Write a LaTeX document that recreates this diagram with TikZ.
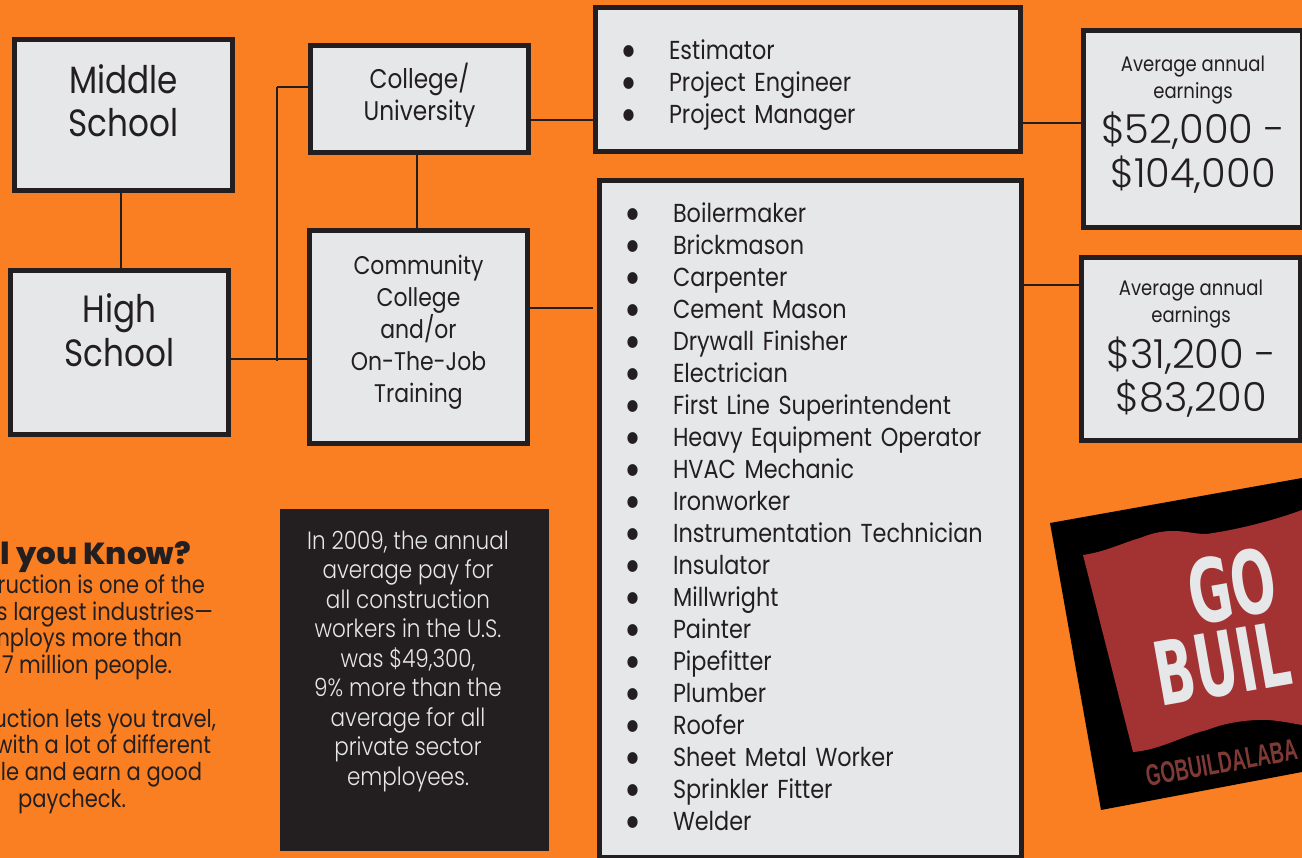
\documentclass[tikz,border=0pt]{standalone}
\usepackage{fontspec}
\setmainfont{Poppins}[FakeStretch=0.86]
\newfontfamily\lightfont{Poppins Light}[FakeStretch=0.86]
\newfontfamily\payfont{Poppins Light}
\newfontfamily\heavyfont{Poppins ExtraBold}[FakeStretch=1.02]
\newfontfamily\logofont{DejaVu Sans Bold}[FakeStretch=0.6]
\newfontfamily\webfont{Liberation Sans}[FakeStretch=0.63]
\usetikzlibrary{positioning}
\definecolor{bgorange}{HTML}{F97F22}
\definecolor{boxgray}{HTML}{E6E7E8}
\definecolor{inkdark}{HTML}{231F20}
\definecolor{flagred}{HTML}{A33232}
\definecolor{webbrown}{HTML}{7F3A35}
\newcommand{\jobline}[1]{\makebox[40pt][l]{\hspace*{-9pt}\smash{\raisebox{-8pt}{\fontsize{48}{48}\selectfont\textbullet}}}\mbox{#1}}
\newcommand{\bigpay}{\payfont\fontsize{40}{45}\selectfont}
\tikzset{
  every node/.style={outer sep=0pt,inner sep=0pt,text=inkdark},
  stagebox/.style={draw=inkdark,line width=5pt,fill=boxgray,align=center},
  joinline/.style={draw=inkdark,line width=2.5pt},
  sideline/.style={font=\fontsize{24.5}{27}\selectfont,anchor=base east}
}

\begin{document}
\begin{tikzpicture}[x=1pt,y=-1pt]
    \useasboundingbox (0,0) rectangle (1302,858);
    \clip (0,0) rectangle (1302,858);
    \fill [bgorange] (0,0) rectangle (1302,858);

    % school and training boxes
    \begin{scope}[every node/.append style={stagebox}]
      \node [minimum width=218pt,minimum height=151pt,text depth=29pt,font=\fontsize{38}{43}\selectfont] (middle) at (123.5,115) {Middle\\School};
      \node [minimum width=218pt,minimum height=164pt,text depth=44pt,font=\fontsize{38}{44}\selectfont] (high) at (119.5,352.5) {High\\School};
      \node [minimum width=218pt,minimum height=107pt,text depth=14pt,font=\fontsize{27}{32}\selectfont] (college) at (419.5,99) {College/\\University};
      \node [minimum width=218pt,minimum height=213pt,text depth=16pt,font=\fontsize{25.5}{32}\selectfont] (community) at (418.5,337) {Community\\College\\and/or\\On-The-Job\\Training};
    \end{scope}

    % job lists
    \begin{scope}[every node/.append style={stagebox,align=left,font=\fontsize{26}{32}\selectfont}]
      \node [minimum width=425pt,minimum height=144pt,text width=358pt] (jobsa) at (808,79.5) {%
        \rule{0pt}{31pt}\jobline{Estimator}\\\jobline{Project Engineer}\\\jobline{Project Manager}};
      \node [minimum width=422pt,minimum height=677pt,text width=355pt] (jobsb) at (810.5,519) {%
        \jobline{Boilermaker}\\\jobline{Brickmason}\\\jobline{Carpenter}\\\jobline{Cement Mason}\\
        \jobline{Drywall Finisher}\\\jobline{Electrician}\\\jobline{First Line Superintendent}\\
        \jobline{Heavy Equipment Operator}\\\jobline{HVAC Mechanic}\\\jobline{Ironworker}\\
        \jobline{Instrumentation Technician}\\\jobline{Insulator}\\\jobline{Millwright}\\
        \jobline{Painter}\\\jobline{Pipefitter}\\\jobline{Plumber}\\\jobline{Roofer}\\
        \jobline{Sheet Metal Worker}\\\jobline{Sprinkler Fitter}\\\jobline{Welder}\rule[-4pt]{0pt}{4pt}};
    \end{scope}

    % earnings
    \begin{scope}[every node/.append style={stagebox,font=\fontsize{21}{27}\selectfont}]
      \node [minimum width=219pt,minimum height=197pt,text depth=15pt] (paya) at (1193,129) {Average annual\\earnings\\[7pt]
        \bigpay \$52,000 -\\[5pt]\bigpay \$104,000};
      \node [minimum width=219pt,minimum height=183pt,text depth=6pt] (payb) at (1191,349) {Average annual\\earnings\\[7pt]
        \bigpay \$31,200 -\\[5pt]\bigpay \$83,200};
    \end{scope}

    % connectors
    \coordinate (trunktop) at (277,87);
    \coordinate (trunkbot) at (277,361);
    \coordinate (tiea) at (560,120);
    \coordinate (tieb) at (560,308);
    \coordinate (tiebend) at (593,308);
    \coordinate (tiec) at (1050,123);
    \coordinate (tied) at (1050,285);
    \coordinate (tiehigh) at (277,359);
    \coordinate (tiemid) at (121,230);
    \coordinate (tiecol) at (417,190);
    \draw [joinline] (tiemid |- middle.south) -- (tiemid |- high.north);
    \draw [joinline] (trunktop) -- (trunkbot);
    \draw [joinline] (trunktop) -- (trunktop -| college.west);
    \draw [joinline] (tiehigh -| high.east) -- (tiehigh -| community.west);
    \draw [joinline] (tiecol |- college.south) -- (tiecol |- community.north);
    \draw [joinline] (tiea -| college.east) -- (tiea -| jobsa.west);
    \draw [joinline] (tieb -| community.east) -- (tiebend);
    \draw [joinline] (tiec -| jobsa.east) -- (tiec -| paya.west);
    \draw [joinline] (tied -| jobsb.east) -- (tied -| payb.west);

    % did you know, cut by the page edge
    \node [anchor=base east,font=\heavyfont\fontsize{30.4}{31}\selectfont] (knowtitle) at (191,565) {l you Know?};
    \foreach \nm/\xe/\yb/\txt in {a/205/593/{ruction is one of the},
        b/213/620/{'s largest industries---},
        c/182/646/{mploys more than},
        d/172/673/{7 million people.},
        e/216/727/{uction lets you travel,},
        f/211/753/{with a lot of different},
        g/202/780/{le and earn a good},
        h/126/807/{paycheck.}}
      \node [sideline] (know\nm) at (\xe,\yb) {\txt};

    % pay note
    \node [fill=inkdark,minimum width=269pt,minimum height=342pt] (notebg) at (414.5,680) {};
    \node [text=boxgray,align=center,font=\lightfont\fontsize{25}{29.5}\selectfont] (note) at (408,661) {In 2009, the annual\\average pay for\\all construction\\workers in the U.S.\\was \$49,300,\\9\% more than the\\average for all\\private sector\\employees.};

    % go build sticker
    \fill [black] (1050,523) -- (1302,478) -- (1302,772) -- (1101,810) -- cycle;
    \fill [flagred] (1083,555) .. controls (1105,552) and (1125,542) .. (1140,538)
      .. controls (1150,534) and (1160,531) .. (1173,531)
      .. controls (1190,531) and (1200,536) .. (1213,533)
      .. controls (1240,529) and (1275,520) .. (1302,510) -- (1302,725)
      .. controls (1285,722) and (1270,719) .. (1257,720)
      .. controls (1235,721) and (1220,725) .. (1207,730)
      .. controls (1185,735) and (1160,750) .. (1133,752) -- cycle;
    \node [rotate=10,text=boxgray,font=\logofont\fontsize{88}{88}\selectfont] (logogo) at (1232,586) {GO};
    \node [rotate=10,text=boxgray,anchor=west,font=\logofont\fontsize{88}{88}\selectfont] (logobuild) at (1155,676) {BUIL};
    \node [rotate=10,text=webbrown,anchor=west,font=\webfont\bfseries\fontsize{30}{30}\selectfont] (logoweb) at (1146,776) {GOBUILDALABA};
\end{tikzpicture}
\end{document}
